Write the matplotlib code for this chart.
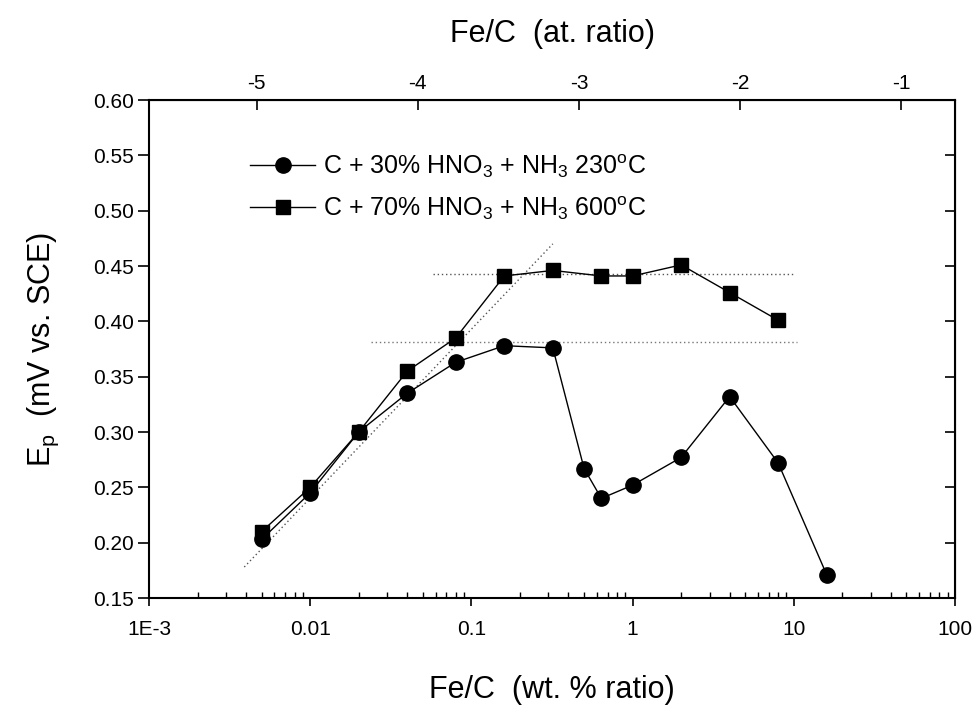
import numpy as np
import matplotlib
matplotlib.use("Agg")
import matplotlib.pyplot as plt
from matplotlib.ticker import LogLocator, NullLocator, FixedLocator, FixedFormatter

plt.rcParams["font.family"] = ["Liberation Sans", "DejaVu Sans"]
plt.rcParams["mathtext.fontset"] = "custom"
plt.rcParams["mathtext.rm"] = "Liberation Sans"

# Fe/C wt.% ratio and peak potential Ep
x_230 = [0.005, 0.01, 0.02, 0.04, 0.08, 0.16, 0.32, 0.5, 0.64, 1.0, 2.0, 4.0, 8.0, 16.0]
ep_230 = [0.203, 0.245, 0.300, 0.335, 0.363, 0.378, 0.376, 0.267, 0.240, 0.252, 0.277, 0.332, 0.272, 0.171]

x_600 = [0.005, 0.01, 0.02, 0.04, 0.08, 0.16, 0.32, 0.64, 1.0, 2.0, 4.0, 8.0]
ep_600 = [0.210, 0.250, 0.300, 0.355, 0.385, 0.441, 0.446, 0.441, 0.441, 0.451, 0.426, 0.401]

# dotted guide lines
guide_slope_x = [0.0039, 0.32]
guide_slope_y = [0.178, 0.470]
guide_600_x = [0.058, 10.0]
guide_600_y = [0.443, 0.443]
guide_230_x = [0.024, 10.5]
guide_230_y = [0.381, 0.381]

y_ticks = [0.15, 0.20, 0.25, 0.30, 0.35, 0.40, 0.45, 0.50, 0.55, 0.60]
x_ticks = [1e-3, 1e-2, 1e-1, 1, 10, 100]
x_ticklabels = ["1E-3", "0.01", "0.1", "1", "10", "100"]
top_ticks = [-5, -4, -3, -2, -1]

# wt.% -> atomic ratio (Fe 55.85, C 12)
WT_TO_AT = 12.0 / (55.85 * 100.0)

fig = plt.figure(figsize=(9.78, 7.13), dpi=100)
ax = fig.add_axes([149 / 978, 1 - 598 / 713, (955 - 149) / 978, (598 - 100) / 713])

ax.plot(guide_slope_x, guide_slope_y, ls=(0, (1, 2)), color="#555555", lw=1.0)
ax.plot(guide_600_x, guide_600_y, ls=(0, (1, 2)), color="#555555", lw=1.0)
ax.plot(guide_230_x, guide_230_y, ls=(0, (1, 2)), color="#777777", lw=1.0)

ax.plot(x_230, ep_230, "-", color="black", lw=1.0, marker="o", ms=11,
        label=r"C + 30% HNO$_\mathregular{3}$ + NH$_\mathregular{3}$ 230$^\mathregular{o}$C")
ax.plot(x_600, ep_600, "-", color="black", lw=1.0, marker="s", ms=10,
        label=r"C + 70% HNO$_\mathregular{3}$ + NH$_\mathregular{3}$ 600$^\mathregular{o}$C")

ax.set_xscale("log")
ax.set_xlim(1e-3, 100)
ax.set_ylim(0.15, 0.60)

ax.xaxis.set_major_locator(FixedLocator(x_ticks))
ax.xaxis.set_major_formatter(FixedFormatter(x_ticklabels))
ax.xaxis.set_minor_locator(LogLocator(base=10, subs=np.arange(2, 10)))
ax.set_yticks(y_ticks)
ax.set_yticklabels([f"{v:.2f}" for v in y_ticks])

ax.tick_params(axis="x", which="major", direction="out", length=6, width=1.2,
               labelsize=15, pad=10)
ax.tick_params(axis="x", which="minor", direction="in", length=4, width=1.0)
ax.tick_params(axis="y", which="major", direction="out", length=8, width=1.2,
               labelsize=15, pad=3, right=False)

for s in ax.spines.values():
    s.set_linewidth(1.5)

# right-side ticks inward
ax_r = ax.secondary_yaxis("right")
ax_r.set_yticks(y_ticks)
ax_r.tick_params(direction="in", length=7, width=1.2, labelright=False)

secax = ax.secondary_xaxis("top", functions=(lambda x: x * WT_TO_AT, lambda x: x / WT_TO_AT))
secax.xaxis.set_major_locator(FixedLocator([10.0 ** t for t in top_ticks]))
secax.xaxis.set_major_formatter(FixedFormatter([str(t) for t in top_ticks]))
secax.xaxis.set_minor_locator(NullLocator())
secax.tick_params(direction="in", length=7, width=1.2, labelsize=15, pad=5)
secax.set_xlabel("Fe/C  (at. ratio)", fontsize=22, labelpad=23)

ax.set_xlabel("Fe/C  (wt. % ratio)", fontsize=22, labelpad=26)
ax.set_ylabel(r"E$_\mathregular{p}$  (mV vs. SCE)", fontsize=22, labelpad=23)

ax.legend(loc="upper left", bbox_to_anchor=(0.113, 0.915), frameon=False,
          fontsize=18, handlelength=2.6, handletextpad=0.3, labelspacing=0.55,
          borderaxespad=0)

fig.savefig("out.png", dpi=100)
